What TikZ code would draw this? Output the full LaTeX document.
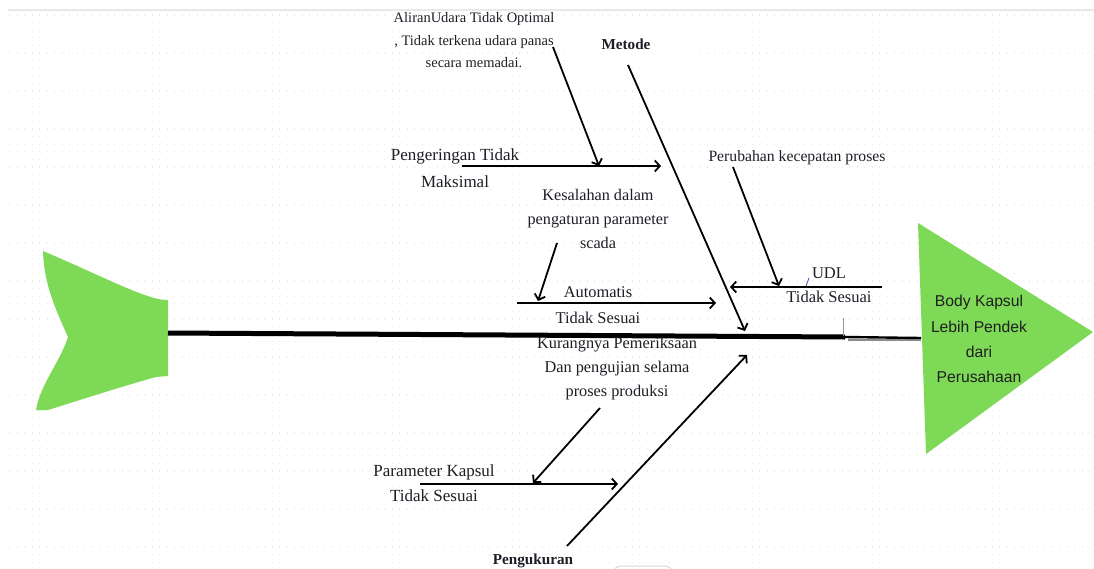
\documentclass[tikz,border=0pt]{standalone}
\usepackage{fontspec}
\setmainfont{Liberation Serif}
\newfontfamily\sansf{Liberation Sans}
\usetikzlibrary{arrows.meta}
\definecolor{fishgreen}{HTML}{7ED957}
\definecolor{txt}{HTML}{1E1E26}
\definecolor{dotc}{HTML}{EBEBEB}
\begin{document}
\begin{tikzpicture}[x=1pt,y=-1pt,
  lbl/.style={text=txt, align=center, inner sep=0pt},
  arr/.style={line width=1.8pt, -{Straight Barb[length=5pt,width=11pt,line width=1.8pt]}},
  fsz/.style 2 args={font=\fontsize{#1}{#2}\selectfont}]
\useasboundingbox (0,0) rectangle (1094,568);
\fill[white] (0,0) rectangle (1094,568);
% dotted background grid
\foreach \yy in {15,22.6,...,568}
  \draw[dotc, line width=1.3pt, dash pattern=on 1.3pt off 6.2pt] (9,\yy) -- (1094,\yy);
\fill[white] (0,0) rectangle (1094,9);
\draw[line width=1.6pt, black!9] (8,10) -- (1094,10);
\fill[white, rounded corners=10pt] (566,22) rectangle (694,64);
\draw[black!15, line width=1pt, rounded corners=8pt] (613,566) rectangle (673,590);

% tail
\fill[fishgreen] (43,251) .. controls (90,271) and (128,290) .. (148,296)
  .. controls (156,299) and (162,300) .. (168,300) -- (168,376) -- (156,377)
  .. controls (120,387) and (80,400) .. (48,410) -- (36,410)
  .. controls (40,385) and (60,362) .. (68,337)
  .. controls (56,310) and (44,285) .. (43,251) -- cycle;

% head
\fill[fishgreen] (918,223) -- (1093,332) -- (926,454) -- cycle;
\node[lbl, text=black!88, font=\sansf\fontsize{15.7}{25.2}\selectfont] (effect) at (979,339)
  {Body Kapsul\\Lebih Pendek\\dari\\Perusahaan};

% spine
\coordinate (sp0) at (168,333);
\coordinate (sp1) at (845,337);
\coordinate (sp2) at (921,338);
\coordinate (sp3) at (921,340);
\coordinate (sp4) at (848,340);
\draw[line width=5pt] (sp0) -- (sp1);
\draw[line width=1.2pt, black!45] (sp4) -- (sp3);
\draw[line width=2.4pt] (sp1) -- (sp2);
\coordinate (tk0) at (843,318);
\coordinate (tk1) at (843,336);
\draw[black!40, line width=0.8pt] (tk0) -- (tk1);
\coordinate (bt0) at (806,286);
\coordinate (bt1) at (809,278);
\draw[blue!40!gray, line width=0.8pt] (bt0) -- (bt1);

% category labels
\node[lbl, font=\bfseries\fontsize{15.2}{18}\selectfont] (metode) at (626,44) {Metode};
\node[lbl, font=\bfseries\fontsize{15.2}{18}\selectfont, anchor=base] (pengukuran) at (533,564) {Pengukuran};

% cause texts
\node[lbl, fsz={14.5}{22.5}] (aliran) at (474,40.5)
  {AliranUdara Tidak Optimal\\, Tidak terkena udara panas\\secara memadai.};
\node[lbl, fsz={17}{27}] (pengeringan) at (455,168.5) {Pengeringan Tidak\\Maksimal};
\node[lbl, fsz={16.2}{24}] (kesalahan) at (598,218.7) {Kesalahan dalam\\pengaturan parameter\\scada};
\node[lbl, fsz={16.4}{26}] (automatis) at (598,305) {Automatis\\Tidak Sesuai};
\node[lbl, fsz={15.7}{20}] (perubahan) at (797,158) {Perubahan kecepatan proses};
\node[lbl, fsz={16.5}{24}] (udl) at (829,285) {UDL\\Tidak Sesuai};
\node[lbl, fsz={16.3}{24}] (kurangnya) at (617,369) {Kurangnya Pemeriksaan\\Dan pengujian selama\\proses produksi};
\node[lbl, fsz={17}{25}] (parameter) at (434,483.5) {Parameter Kapsul\\Tidak Sesuai};

% connectors
\coordinate (m0) at (628,65);   \coordinate (m1) at (745,331);
\coordinate (a0) at (553,47);   \coordinate (a1) at (599,166);
\coordinate (p0) at (462,166);  \coordinate (p1) at (661,166);
\coordinate (k0) at (557,243);  \coordinate (k1) at (538,301);
\coordinate (t0) at (517,303);  \coordinate (t1) at (716,303);
\coordinate (c0) at (733,167);  \coordinate (c1) at (779,286);
\coordinate (u0) at (882,287);  \coordinate (u1) at (730,287);
\coordinate (g0) at (567,546);  \coordinate (g1) at (747,355);
\coordinate (q0) at (600,408);  \coordinate (q1) at (533,483);
\coordinate (r0) at (420,484);  \coordinate (r1) at (618,484);
\draw[arr] (m0) -- (m1);
\draw[arr] (a0) -- (a1);
\draw[arr] (p0) -- (p1);
\draw[arr] (k0) -- (k1);
\draw[arr] (t0) -- (t1);
\draw[arr] (c0) -- (c1);
\draw[arr] (u0) -- (u1);
\draw[arr] (g0) -- (g1);
\draw[arr] (q0) -- (q1);
\draw[arr] (r0) -- (r1);
\end{tikzpicture}
\end{document}
